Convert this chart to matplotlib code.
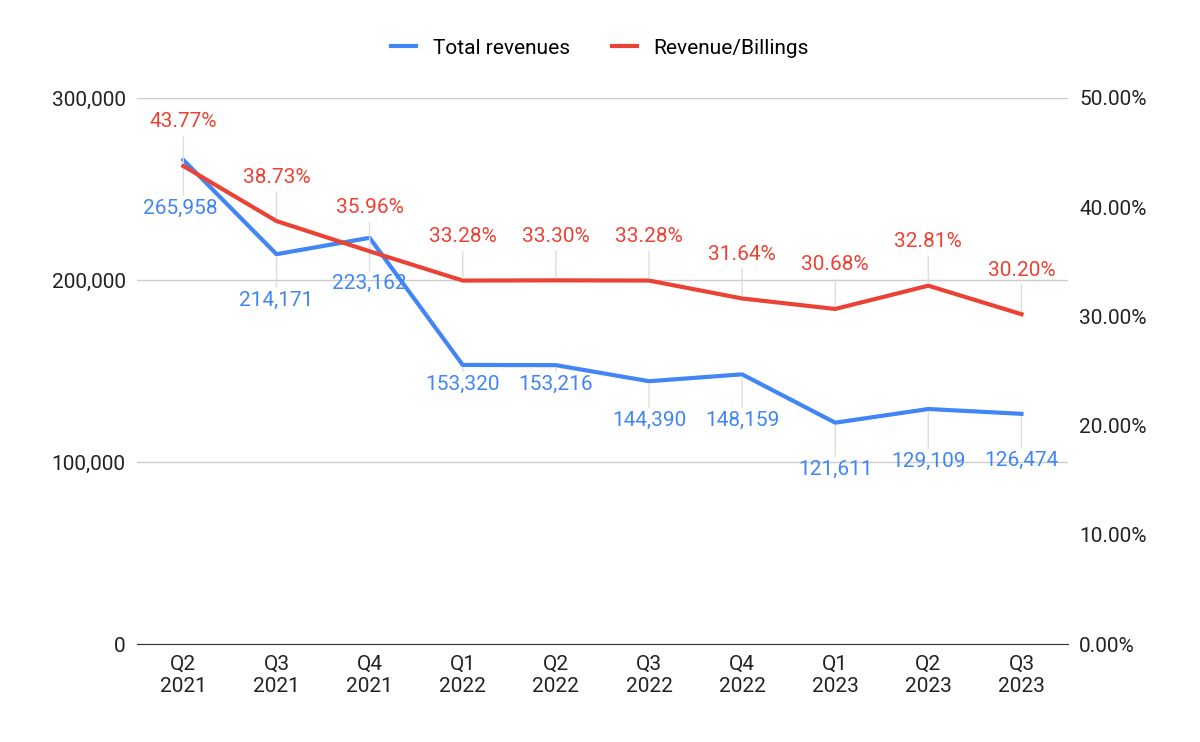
import matplotlib
matplotlib.use("Agg")
import matplotlib.pyplot as plt
from matplotlib.ticker import FuncFormatter

categories = ["Q2\n2021","Q3\n2021","Q4\n2021","Q1\n2022","Q2\n2022","Q3\n2022","Q4\n2022","Q1\n2023","Q2\n2023","Q3\n2023"]
revenues = [265958, 214171, 223162, 153320, 153216, 144390, 148159, 121611, 129109, 126474]
ratio = [43.77, 38.73, 35.96, 33.28, 33.30, 33.28, 31.64, 30.68, 32.81, 30.20]

# label offsets in pixels (style)
blue_off = [(-3,-48),(0,-46),(0,-46),(0,-19),(0,-19),(0,-39),(0,-46),(0,-47),(0,-52),(0,-47)]
red_off = (0, 44)

BLUE = "#4285F4"; RED = "#EA4335"
plt.rcParams['font.family'] = ['Roboto', 'DejaVu Sans']
fig = plt.figure(figsize=(12, 7.42), dpi=100)
ax = fig.add_axes([0.114, 0.132, 0.776, 0.736])
ax2 = ax.twinx()
x = list(range(len(categories)))

ax.set_xlim(-0.5, len(categories)-0.5)
ax.set_ylim(0, 300000)
ax.set_yticks([0,100000,200000,300000])
ax.yaxis.set_major_formatter(FuncFormatter(lambda v,p: f"{int(v):,}"))
ax2.set_ylim(0, 50)
ax2.set_yticks([0,10,20,30,40,50])
ax2.yaxis.set_major_formatter(FuncFormatter(lambda v,p: f"{v:.2f}%"))
ax.grid(axis='y', color='#cccccc', lw=1)
ax.set_axisbelow(True)
for a in (ax, ax2):
    for s in a.spines.values(): s.set_visible(False)
    a.tick_params(length=0, labelsize=15, colors='#222222', pad=8)
ax.spines['bottom'].set_visible(True); ax.spines['bottom'].set_color('#333333')
ax.set_xticks(x); ax.set_xticklabels(categories)

l1, = ax.plot(x, revenues, color=BLUE, lw=3, label="Total revenues", zorder=3)
l2, = ax2.plot(x, ratio, color=RED, lw=3, label="Revenue/Billings", zorder=3)

for i,(v,o) in enumerate(zip(revenues, blue_off)):
    ax.annotate("", xy=(i,v), xytext=(0,o[1]+10), textcoords='offset pixels',
                arrowprops=dict(arrowstyle='-', color='#dddddd', lw=1))
    ax.annotate(f"{v:,}", xy=(i,v), xytext=o, textcoords='offset pixels',
                ha='center', va='center', color=BLUE, fontsize=15)
for i,v in enumerate(ratio):
    ax2.annotate("", xy=(i,v), xytext=(0,red_off[1]-12), textcoords='offset pixels',
                 arrowprops=dict(arrowstyle='-', color='#dddddd', lw=1))
    ax2.annotate(f"{v:.2f}%", xy=(i,v), xytext=red_off, textcoords='offset pixels',
                 ha='center', va='center', color=RED, fontsize=15)

fig.legend(handles=[l1,l2], loc='center', bbox_to_anchor=(0.5, 0.935), ncol=2,
           frameon=False, fontsize=15, handlelength=1.2, columnspacing=2)
fig.savefig("out.png", dpi=100)
